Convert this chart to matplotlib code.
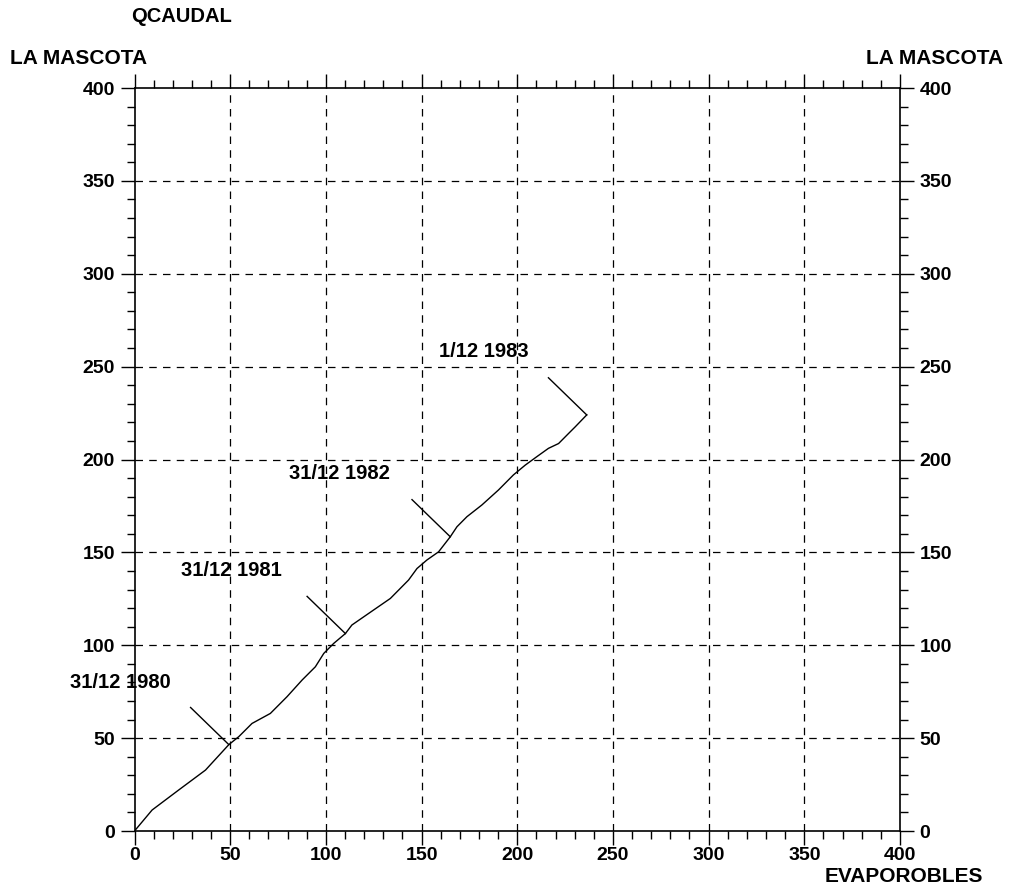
import matplotlib
matplotlib.use("Agg")
import matplotlib.pyplot as plt
from matplotlib.ticker import MultipleLocator

plt.rcParams['font.family'] = ['Liberation Sans', 'DejaVu Sans']

# Cumulative series: EVAPOROBLES (x) vs QCAUDAL at LA MASCOTA (y)
cum_x = [0, 9.2, 23.0, 37.1, 49.3, 54.5, 61.4, 71.0, 79.7, 87.6, 94.5, 98.9,
         104.1, 110.2, 113.6, 122.3, 133.7, 143.2, 147.6, 152.8, 158.9, 165.0,
         168.5, 173.7, 181.5, 190.2, 198.0, 204.2, 210.2, 216.3, 221.6, 226.8,
         230.3, 236.3]
cum_y = [0, 11.3, 22.0, 32.8, 46.5, 50.8, 57.9, 63.3, 72.3, 81.3, 88.4, 95.6,
         101.0, 106.3, 110.9, 117.1, 125.2, 135.1, 141.3, 145.9, 150.3, 158.4,
         163.8, 169.2, 175.5, 183.6, 191.7, 197.0, 201.5, 206.0, 208.6, 214.0,
         217.6, 224.0]

# Year-end markers (index into the cumulative series) and their labels
mark_idx = [4, 13, 21, 33]
date_labels = ["31/12 1980", "31/12 1981", "31/12 1982", "1/12 1983"]
label_x = [-7.5, 50.5, 107.0, 182.5]
label_y = [79.7, 140.5, 192.7, 258.4]

ticks = [0, 50, 100, 150, 200, 250, 300, 350, 400]

fig = plt.figure(figsize=(10.15, 8.86), dpi=100)
ax = fig.add_axes([134.5 / 1015, 1 - 831 / 886, 765.5 / 1015, 743 / 886])
ax.set_xlim(0, 400)
ax.set_ylim(0, 400)

# Dashed grid
for v in ticks[1:-1]:
    ax.axvline(v, color='black', lw=0.9, ls=(0, (6, 5)), zorder=1)
    ax.axhline(v, color='black', lw=0.9, ls=(0, (6, 5)), zorder=1)

ax.plot(cum_x, cum_y, color='black', lw=1.0, zorder=3)

# Year-end tick strokes drawn up-left from the curve
for i in mark_idx:
    x0, y0 = cum_x[i], cum_y[i]
    ax.plot([x0, x0 - 20], [y0, y0 + 20], color='black', lw=1.0, zorder=3)

for t, lx, ly in zip(date_labels, label_x, label_y):
    ax.text(lx, ly, t, ha='center', va='center', fontsize=14.5,
            fontweight='bold', clip_on=False)

for s in ax.spines.values():
    s.set_linewidth(1.2)

ax.xaxis.set_major_locator(MultipleLocator(50))
ax.xaxis.set_minor_locator(MultipleLocator(10))
ax.yaxis.set_major_locator(MultipleLocator(50))
ax.yaxis.set_minor_locator(MultipleLocator(10))
ax.tick_params(which='both', direction='out', top=True, right=True,
               bottom=True, left=True, labelright=True, labeltop=False,
               colors='black', width=1.0)
ax.tick_params(which='major', length=10, labelsize=14, pad=4)
ax.tick_params(which='minor', length=6)
ax.tick_params(axis='x', which='major', pad=1.5)
for lab in ax.xaxis.get_majorticklabels() + ax.yaxis.get_majorticklabels():
    lab.set_fontweight('bold')

fig.text(181 / 1015, 1 - 16 / 886, "QCAUDAL", ha='center', va='center',
         fontsize=14.5, fontweight='bold')
fig.text(10 / 1015, 1 - 58 / 886, "LA MASCOTA", ha='left', va='center',
         fontsize=15, fontweight='bold')
fig.text(1003 / 1015, 1 - 58 / 886, "LA MASCOTA", ha='right', va='center',
         fontsize=15, fontweight='bold')
fig.text(904 / 1015, 1 - 876 / 886, "EVAPOROBLES", ha='center', va='center',
         fontsize=15, fontweight='bold')

fig.savefig("out.png", dpi=100, facecolor='white')
